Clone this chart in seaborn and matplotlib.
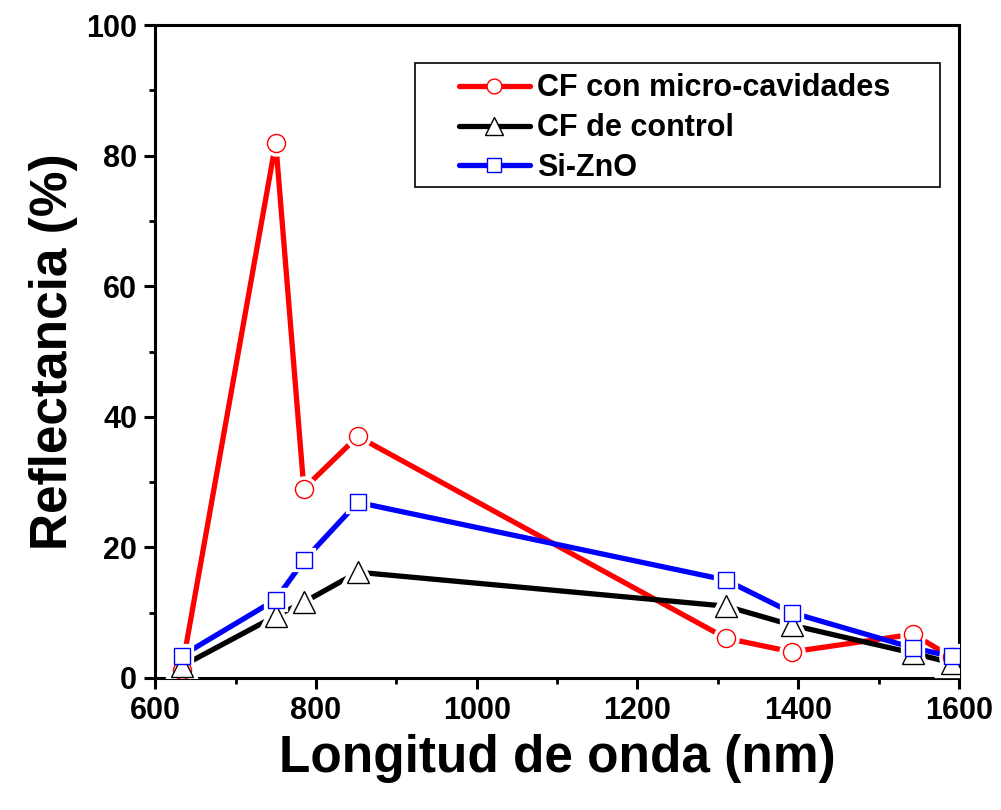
import matplotlib
matplotlib.use("Agg")
import matplotlib.pyplot as plt
from matplotlib.lines import Line2D
from matplotlib.patches import Rectangle
from matplotlib.ticker import MultipleLocator
import seaborn as sns
import pandas as pd

# Wavelengths (nm)
wavelength = [633, 750, 785, 852, 1310, 1392, 1543, 1591]

# Reflectance (%) for each sample
cf_micro = [1.2, 82.0, 29.0, 37.0, 6.1, 4.0, 6.7, 3.2]
cf_control = [1.8, 9.5, 11.6, 16.2, 11.0, 8.1, 3.8, 2.3]
si_zno = [3.4, 12.0, 18.0, 26.9, 15.0, 10.0, 4.6, 3.3]

series_names = ["CF con micro-cavidades", "CF de control", "Si-ZnO"]
series_values = [cf_micro, cf_control, si_zno]
series_colors = ["#ff0000", "#000000", "#0000ff"]
series_markers = ["o", "^", "s"]
marker_sizes = [13, 15.5, 11.5]

sns.set_style("ticks", rc={"text.color": "black", "axes.labelcolor": "black",
                           "xtick.color": "black", "ytick.color": "black",
                           "axes.edgecolor": "black"})
plt.rcParams["font.family"] = ["Liberation Sans", "DejaVu Sans"]
plt.rcParams["font.weight"] = "bold"

fig = plt.figure(figsize=(10.01, 8.10), dpi=100)
ax = fig.add_axes([0.155, 0.163, 0.803, 0.806])

for name, vals, col, mk, ms in zip(series_names, series_values, series_colors,
                                   series_markers, marker_sizes):
    df = pd.DataFrame({"x": wavelength, "y": vals})
    sns.lineplot(data=df, x="x", y="y", ax=ax, color=col, linewidth=3.8,
                 errorbar=None, sort=True, zorder=2)
    # white halo leaves a gap between the line and the hollow marker
    sns.lineplot(data=df, x="x", y="y", ax=ax, linestyle="none", marker=mk,
                 markersize=ms, markerfacecolor="white",
                 markeredgecolor="white", markeredgewidth=6,
                 errorbar=None, zorder=3)
    sns.lineplot(data=df, x="x", y="y", ax=ax, linestyle="none", marker=mk,
                 markersize=ms, markerfacecolor="white",
                 markeredgecolor=col, markeredgewidth=1.0,
                 errorbar=None, zorder=4)

ax.set_xlim(600, 1600)
ax.set_ylim(0, 100)
ax.xaxis.set_major_locator(MultipleLocator(200))
ax.xaxis.set_minor_locator(MultipleLocator(100))
ax.yaxis.set_major_locator(MultipleLocator(20))
ax.yaxis.set_minor_locator(MultipleLocator(10))

for sp in ax.spines.values():
    sp.set_linewidth(2.2)
    sp.set_color("black")

ax.tick_params(axis="both", which="major", direction="out", length=8,
               width=2.2, labelsize=22, pad=5, colors="black")
ax.tick_params(axis="both", which="minor", direction="out", length=4,
               width=2.0)
ax.tick_params(top=False, right=False, which="both")
for lbl in ax.get_xticklabels() + ax.get_yticklabels():
    lbl.set_fontweight("bold")

ax.set_xlabel("Longitud de onda (nm)", fontsize=37, fontweight="bold",
              labelpad=6)
ax.set_ylabel("Reflectancia (%)", fontsize=37, fontweight="bold",
              labelpad=6)

# legend frame
ax.add_patch(Rectangle((0.323, 0.752), 0.653, 0.190, transform=ax.transAxes,
                       facecolor="white", edgecolor="black", linewidth=1.2,
                       zorder=5))

handles = [
    Line2D([], [], color=c, linewidth=3.8, marker=m, markersize=ms * 0.82,
           markerfacecolor="white", markeredgecolor=c, markeredgewidth=1.0)
    for c, m, ms in zip(series_colors, series_markers, marker_sizes)
]
leg = ax.legend(handles, series_names, loc="center",
                bbox_to_anchor=(0.6465, 0.842), frameon=False,
                handlelength=2.3, handletextpad=0.25, borderpad=0.2,
                labelspacing=0.32, borderaxespad=0.0,
                prop={"weight": "bold", "size": 22})
leg.set_zorder(6)

fig.savefig("out.png", dpi=100, facecolor="white")
